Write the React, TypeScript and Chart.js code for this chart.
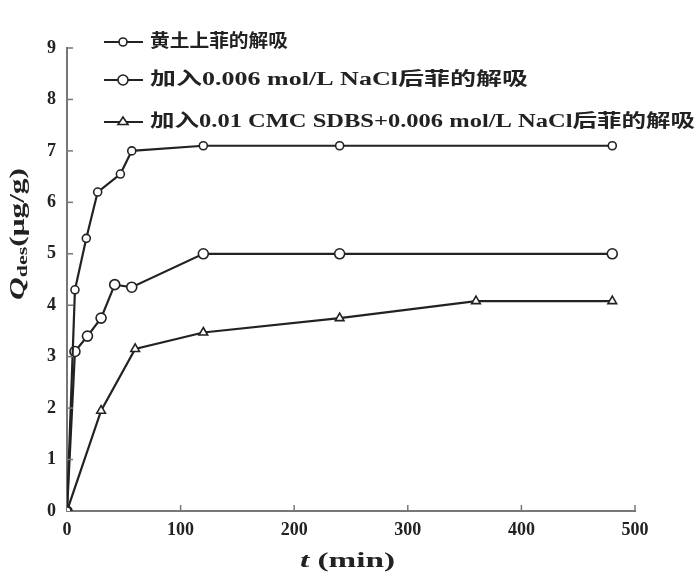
import React, { useEffect, useRef } from "react";
import { Chart, registerables } from "chart.js";

Chart.register(...registerables);

const seriesNames = [
  "黄土上菲的解吸",
  "加入0.006 mol/L NaCl后菲的解吸",
  "加入0.01 CMC SDBS+0.006 mol/L NaCl后菲的解吸",
];

const loessT = [0, 7, 17, 27, 47, 57, 120, 240, 480];
const loessQ = [0, 4.3, 5.3, 6.2, 6.55, 7.0, 7.1, 7.1, 7.1];

const naclT = [0, 7, 18, 30, 42, 57, 120, 240, 480];
const naclQ = [0, 3.1, 3.4, 3.75, 4.4, 4.35, 5.0, 5.0, 5.0];

const sdbsT = [0, 30, 60, 120, 240, 360, 480];
const sdbsQ = [0, 1.95, 3.15, 3.47, 3.75, 4.08, 4.08];

const xTicks = [0, 100, 200, 300, 400, 500];
const yTicks = [0, 1, 2, 3, 4, 5, 6, 7, 8, 9];

const pointStyles = ["circle", "circle", "triangle"];
const pointRadii = [4, 5, 5];
const legendWidths = [138, 378, 545];

const INK = "#222";
const AXIS = "#777";
const SERIF = "Liberation Serif, serif";
const CJK = "Liberation Serif, Noto Sans CJK SC, serif";

function drawMarker(ctx: CanvasRenderingContext2D, style: string, x: number, y: number, r: number) {
  ctx.save();
  ctx.fillStyle = "#fff";
  ctx.strokeStyle = INK;
  ctx.lineWidth = 1.6;
  ctx.beginPath();
  if (style === "triangle") {
    const h = r * 1.5;
    ctx.moveTo(x, y - h * 0.66);
    ctx.lineTo(x + r, y + h * 0.34);
    ctx.lineTo(x - r, y + h * 0.34);
    ctx.closePath();
  } else {
    ctx.arc(x, y, r, 0, Math.PI * 2);
  }
  ctx.fill();
  ctx.stroke();
  ctx.restore();
}

function fitText(ctx: CanvasRenderingContext2D, text: string, x: number, y: number, width: number) {
  const w = ctx.measureText(text).width;
  const k = width / w;
  ctx.save();
  ctx.translate(x, y);
  ctx.scale(k, 1);
  ctx.fillText(text, 0, 0);
  ctx.restore();
}

const decorPlugin = {
  id: "decor",
  afterDraw(chart: any) {
    const ctx: CanvasRenderingContext2D = chart.ctx;
    const xs = chart.scales.x;
    const ys = chart.scales.y;
    ctx.save();
    // inward tick marks
    ctx.strokeStyle = AXIS;
    ctx.lineWidth = 1.5;
    yTicks.forEach((v) => {
      if (v === 0) return;
      const py = ys.getPixelForValue(v);
      ctx.beginPath();
      ctx.moveTo(xs.left, py);
      ctx.lineTo(xs.left + 6, py);
      ctx.stroke();
    });
    xTicks.forEach((v) => {
      if (v === 0) return;
      const px = xs.getPixelForValue(v);
      ctx.beginPath();
      ctx.moveTo(px, ys.bottom);
      ctx.lineTo(px, ys.bottom - 6);
      ctx.stroke();
    });

    ctx.fillStyle = INK;
    ctx.textBaseline = "middle";
    ctx.textAlign = "left";

    // x title: "t (min)"
    {
      ctx.save();
      const total = 95;
      ctx.font = `italic bold 20px ${SERIF}`;
      const tW = ctx.measureText("t").width;
      ctx.font = `bold 20px ${SERIF}`;
      const rest = " (min)";
      const rW = ctx.measureText(rest).width;
      const k = total / (tW + rW);
      ctx.translate(300, 562);
      ctx.scale(k, 1);
      ctx.font = `italic bold 20px ${SERIF}`;
      ctx.fillText("t", 0, 0);
      ctx.font = `bold 20px ${SERIF}`;
      ctx.fillText(rest, tW, 0);
      ctx.restore();
    }

    // y title (rotated)
    {
      ctx.save();
      ctx.translate(19, 234);
      ctx.rotate(-Math.PI / 2);
      ctx.font = `italic bold 20px ${SERIF}`;
      const qW = ctx.measureText("Q").width;
      ctx.font = `bold 14px ${SERIF}`;
      const dW = ctx.measureText("des").width;
      ctx.font = `bold 20px ${SERIF}`;
      const uW = ctx.measureText("(μg/g)").width;
      const sum = qW + dW + uW;
      const k = 132 / sum;
      ctx.scale(k, 1);
      const ox = -sum / 2;
      ctx.font = `italic bold 20px ${SERIF}`;
      ctx.fillText("Q", ox, 0);
      ctx.font = `bold 14px ${SERIF}`;
      ctx.fillText("des", ox + qW, 4);
      ctx.font = `bold 20px ${SERIF}`;
      ctx.fillText("(μg/g)", ox + qW + dW, 0);
      ctx.restore();
    }

    // legend
    const rowsY = [42, 80, 122];
    seriesNames.forEach((name, i) => {
      const y = rowsY[i];
      ctx.strokeStyle = INK;
      ctx.lineWidth = 2;
      ctx.beginPath();
      ctx.moveTo(104, y);
      ctx.lineTo(143, y);
      ctx.stroke();
      drawMarker(ctx, pointStyles[i], 123, y, pointRadii[i]);
      ctx.fillStyle = INK;
      ctx.font = `bold 18px ${CJK}`;
      ctx.textAlign = "left";
      ctx.textBaseline = "middle";
      fitText(ctx, name, 150, y, legendWidths[i]);
    });
    ctx.restore();
  },
};

function toPoints(t: number[], q: number[]) {
  return t.map((v, i) => ({ x: v, y: q[i] }));
}

export default function App() {
  const ref = useRef<HTMLCanvasElement | null>(null);

  useEffect(() => {
    document.body.style.margin = "0";
    const canvas = ref.current;
    if (!canvas) return;
    const mk = (t: number[], q: number[], i: number) => ({
      label: seriesNames[i],
      data: toPoints(t, q),
      borderColor: INK,
      borderWidth: 2.2,
      backgroundColor: "#fff",
      pointStyle: pointStyles[i],
      pointRadius: pointRadii[i],
      pointBorderWidth: 1.6,
      pointBorderColor: INK,
      pointBackgroundColor: "#fff",
      tension: 0,
    });
    const chart = new Chart(canvas, {
      type: "line",
      data: {
        datasets: [mk(loessT, loessQ, 0), mk(naclT, naclQ, 1), mk(sdbsT, sdbsQ, 2)],
      },
      options: {
        animation: false,
        responsive: false,
        maintainAspectRatio: false,
        layout: { padding: { top: 48, right: 65, left: 0, bottom: 0 } },
        plugins: { legend: { display: false }, tooltip: { enabled: false } },
        scales: {
          x: {
            type: "linear",
            min: 0,
            max: 500,
            afterBuildTicks: (s: any) => {
              s.ticks = xTicks.map((v) => ({ value: v }));
            },
            afterFit: (s: any) => {
              s.height = 67;
            },
            grid: { display: false, drawTicks: false },
            border: { display: true, color: AXIS, width: 2 },
            ticks: {
              color: INK,
              font: { family: SERIF, size: 18, weight: "bold" },
              padding: 9,
              maxRotation: 0,
              autoSkip: false,
            },
          },
          y: {
            type: "linear",
            min: 0,
            max: 9,
            afterBuildTicks: (s: any) => {
              s.ticks = yTicks.map((v) => ({ value: v }));
            },
            afterFit: (s: any) => {
              s.width = 67;
            },
            grid: { display: false, drawTicks: false },
            border: { display: true, color: AXIS, width: 2 },
            ticks: {
              color: INK,
              font: { family: SERIF, size: 18, weight: "bold" },
              padding: 11,
              autoSkip: false,
            },
          },
        },
      },
      plugins: [decorPlugin],
    } as any);
    return () => chart.destroy();
  }, []);

  return (
    <div style={{ width: 700, height: 578, background: "#fff" }}>
      <canvas ref={ref} width={700} height={578} style={{ display: "block" }} />
    </div>
  );
}
